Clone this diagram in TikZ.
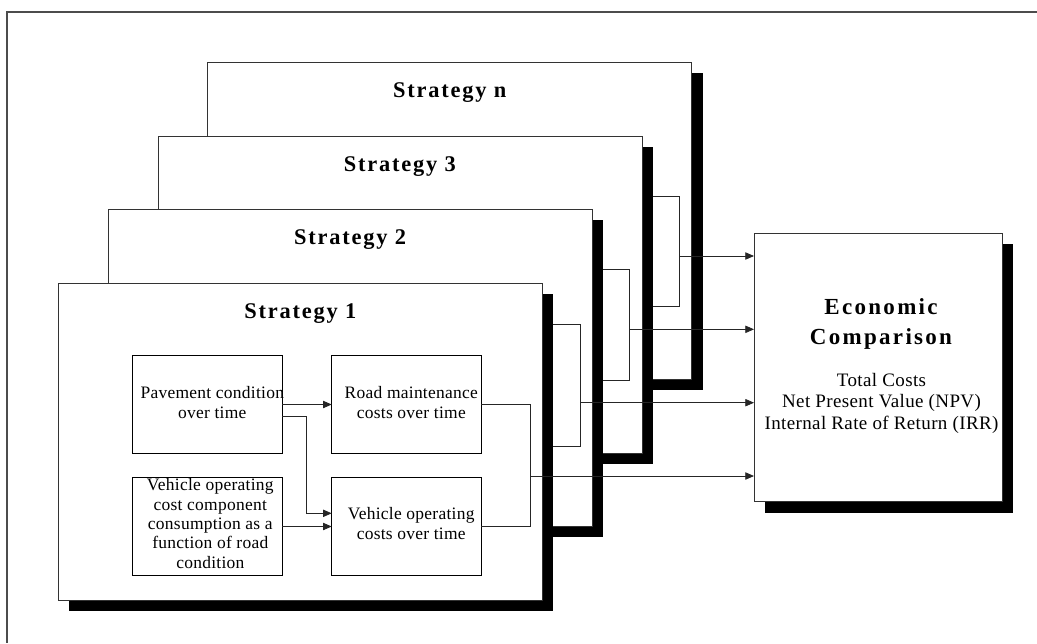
\documentclass[tikz,border=0pt]{standalone}
\usepackage{fontspec}
\setmainfont{Liberation Serif}
\newfontfamily\ttlfont[LetterSpace=8]{Liberation Serif}
\newfontfamily\ecofont[LetterSpace=10]{Liberation Serif}
\newfontfamily\boxfont[LetterSpace=1.5]{Liberation Serif}
\newfontfamily\ecotxtfont[LetterSpace=2]{Liberation Serif}
\usetikzlibrary{arrows.meta,shadows}

\begin{document}
\begin{tikzpicture}[x=0.75pt,y=-0.75pt,
  frameline/.style={draw=black!70, line width=1.1pt},
  blackshadow/.style={drop shadow={shadow xshift=8.25pt, shadow yshift=-8.25pt, opacity=1, fill=black}},
  panel/.style={draw=black!80, fill=white, line width=0.6pt, inner sep=0pt, outer sep=0pt,
    anchor=north west, minimum width=363pt, minimum height=237.75pt, blackshadow},
  ecobox/.style={draw=black!80, fill=white, line width=0.6pt, inner sep=0pt, outer sep=0pt,
    anchor=north west, minimum width=186.2pt, minimum height=201.3pt, blackshadow},
  inbox/.style={draw=black, fill=white, line width=0.6pt, inner sep=0pt, outer sep=0pt,
    anchor=north west, minimum width=112.2pt, minimum height=73.2pt},
  ttl/.style={font={\fontsize{16.8pt}{20pt}\selectfont\ttlfont\bfseries}, inner sep=0pt, anchor=base},
  ecottl/.style={font={\fontsize{17.25pt}{22pt}\selectfont\ecofont\bfseries}, inner sep=0pt, anchor=base, align=center},
  txt/.style={font={\fontsize{13.1pt}{14.5pt}\selectfont\boxfont}, inner sep=0pt, anchor=base, align=center},
  ecotxt/.style={font={\fontsize{14.25pt}{16pt}\selectfont\ecotxtfont}, inner sep=0pt, anchor=base, align=center},
  conn/.style={draw=black!85, line width=0.6pt},
  arr/.style={conn, -{Triangle[length=6.5pt, width=5.5pt]}}
]
\useasboundingbox (0,0) rectangle (1037,643);

% page frame (top and left edges)
\draw[frameline] (1037,12) -- (7,12) -- (7,643);

% ---- Strategy n (rearmost) ----
\node[panel] (sn) at (207.7,62.4) {};
\node[ttl] (tn) at (449.7,97.8) {Strategy n};
\coordinate (bna) at (630,196);
\coordinate (bnb) at (679.3,306);
\coordinate (bnc) at (630,306);
\coordinate (bnx) at (679.3,256);
\draw[conn] (bna) -| (bnb) -- (bnc);

% ---- Strategy 3 ----
\node[panel] (s3) at (157.9,135.9) {};
\node[ttl] (t3) at (399.9,171.3) {Strategy 3};
\coordinate (b3a) at (580,269.3);
\coordinate (b3b) at (629.3,380);
\coordinate (b3c) at (580,380);
\coordinate (b3x) at (629.3,329.3);
\draw[conn] (b3a) -| (b3b) -- (b3c);

% ---- Strategy 2 ----
\node[panel] (s2) at (108.1,209.4) {};
\node[ttl] (t2) at (350.1,244.8) {Strategy 2};
\coordinate (b2a) at (530,324.3);
\coordinate (b2b) at (580,446.7);
\coordinate (b2c) at (530,446.7);
\coordinate (b2x) at (580,402.7);
\draw[conn] (b2a) -| (b2b) -- (b2c);

% ---- Strategy 1 (front) ----
\node[panel] (s1) at (58.3,282.9) {};
\node[ttl] (t1) at (300.3,318.3) {Strategy 1};

\node[inbox] (pav) at (132.7,355.7) {};
\node[inbox] (rm)  at (331.7,355.7) {};
\node[inbox] (vc)  at (132.7,477.7) {};
\node[inbox] (vop) at (331.7,477.7) {};

% multi-line labels: the base anchor sits on the last line
\node[txt] (pavT) at (212.3,418.3) {Pavement condition\\over time};
\node[txt] (rmT)  at (411.3,418.3) {Road maintenance\\costs over time};
\node[txt] (vcT)  at (210.3,568.3) {Vehicle operating\\cost component\\consumption as a\\function of road\\condition};
\node[txt] (vopT) at (411.2,539.3) {Vehicle operating\\costs over time};

\draw[arr] (pav.east) -- (rm.west);
\draw[arr] ([yshift=-9.15pt]pav.east) -- ++(24.4,0) |- ([yshift=9.9pt]vop.west);
\draw[arr] (vc.east) -- (vop.west);

\coordinate (b1) at (530,404.5);
\coordinate (b1x) at (530,476);
\draw[conn] (rm.east) -- (rm.east -| b1) -- (vop.east -| b1) -- (vop.east);

% ---- Economic comparison ----
\node[ecobox] (eco) at (754,233.3) {};
\node[ecottl] (ecoT) at (881,344.3) {Economic\\Comparison};
\node[ecotxt] (ecoL) at (881.5,429.3) {Total Costs\\Net Present Value (NPV)\\Internal Rate of Return (IRR)};

% results of each strategy feed the comparison
\draw[arr] (bnx) -- (bnx -| eco.west);
\draw[arr] (b3x) -- (b3x -| eco.west);
\draw[arr] (b2x) -- (b2x -| eco.west);
\draw[arr] (b1x) -- (b1x -| eco.west);
\end{tikzpicture}
\end{document}
